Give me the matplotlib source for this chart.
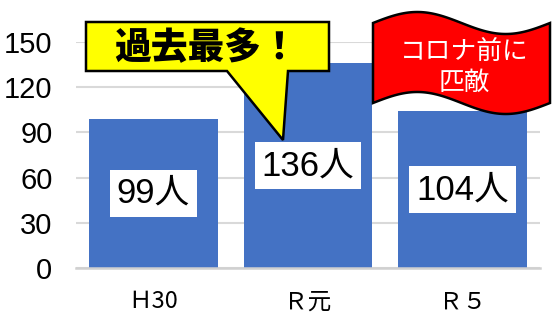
import numpy as np
import matplotlib
matplotlib.use("Agg")
import matplotlib.pyplot as plt
from matplotlib.patches import Polygon
from matplotlib import font_manager

categories = ["Ｈ30", "Ｒ元", "Ｒ５"]
values = [99, 136, 104]
unit = "人"
yticks = [0, 30, 60, 90, 120, 150]
callout_text = "過去最多！"
flag_text = "コロナ前に\n匹敵"

names = sorted({f.name for f in font_manager.fontManager.ttflist})
narrow = "Liberation Sans Narrow" if "Liberation Sans Narrow" in names else "Liberation Sans"
num_fam = [narrow, "Noto Sans CJK JP", "DejaVu Sans"]
cjk_fam = ["Noto Sans CJK JP", "DejaVu Sans"]

W, H = 553, 313
fig = plt.figure(figsize=(W / 100, H / 100), dpi=100)
ax = fig.add_axes([76 / W, 1 - 268 / H, 464 / W, 226 / H])

x = np.arange(len(categories))
ax.bar(x, values, width=0.834, color="#4472C4", zorder=2)
ax.set_xlim(-0.5, len(categories) - 0.5)
ax.set_ylim(0, 150)
ax.set_yticks(yticks)
ax.set_yticklabels([str(t) for t in yticks], family=num_fam, fontsize=21)
ax.set_xticks(x)
ax.set_xticklabels(categories, family=cjk_fam, fontsize=17)
ax.tick_params(axis="y", length=0, pad=17)
ax.tick_params(axis="x", length=0, pad=16)
ax.grid(axis="y", color="#d9d9d9", lw=1.5, zorder=0)
ax.set_axisbelow(True)
for s in ax.spines.values():
    s.set_visible(False)
ax.axhline(0, color="#d0d0d0", lw=1.8, zorder=3, clip_on=False)

for xi, v in zip(x, values):
    ax.text(xi, v / 2, f"{v}{unit}", ha="center", va="center", fontsize=25,
            family=num_fam, zorder=4,
            bbox=dict(boxstyle="square,pad=0.2", fc="white", ec="none"))

# overlay for annotation shapes (pixel coordinates)
ov = fig.add_axes([0, 0, 1, 1])
ov.set_xlim(0, W)
ov.set_ylim(H, 0)
ov.axis("off")
ov.patch.set_alpha(0)

call = [(86, 22), (329, 22), (329, 71), (288, 71), (283, 140), (227, 71), (86, 71)]
ov.add_patch(Polygon(call, closed=True, fc="#FFFF00", ec="black", lw=1.8, joinstyle="miter"))
ov.text(206, 48, callout_text, ha="center", va="center", fontsize=26.5,
        family=cjk_fam, weight="black", color="black")

t = np.linspace(0, 1, 100)
fx = 373 + (550 - 373) * t
top = 23 - 11 * np.sin(2 * np.pi * t)
bot = 103 - 11 * np.sin(2 * np.pi * t)
pts = list(zip(fx, top)) + list(zip(fx[::-1], bot[::-1]))
ov.add_patch(Polygon(pts, closed=True, fc="#FF0000", ec="black", lw=1.8))
ov.text(464, 67, flag_text, ha="center", va="center", fontsize=18.5,
        family=cjk_fam, color="white", linespacing=1.25)

fig.savefig("out.png", dpi=100)
